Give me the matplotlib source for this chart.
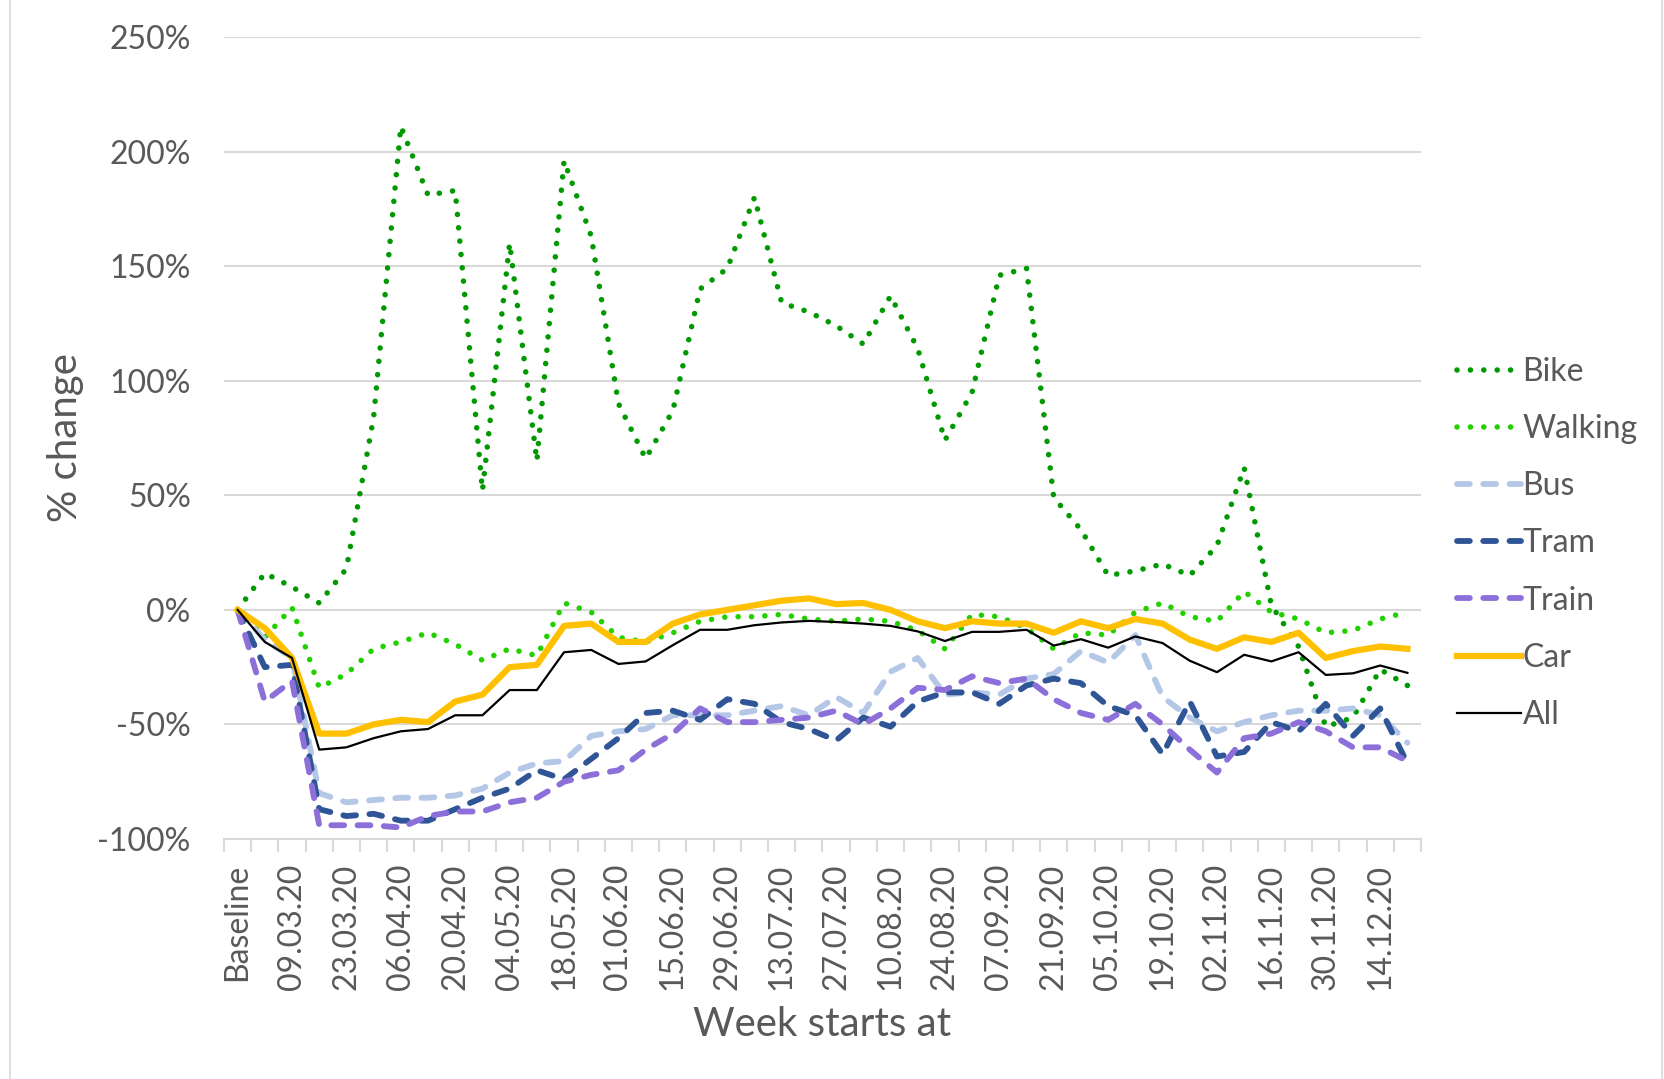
import matplotlib
matplotlib.use("Agg")
import matplotlib.pyplot as plt
from matplotlib.patches import Rectangle
import numpy as np
import pandas as pd

# categories: baseline + weekly start dates
weeks = list(pd.date_range("2020-03-02", periods=43, freq="7D").strftime("%d.%m.%y"))
categories = ["Baseline"] + weeks

# % change per week
bike = [0, 16, 10, 3, 18, 84, 211, 181, 183, 52, 160, 65, 196, 163, 90, 66, 87, 140,
        149, 180, 134, 130, 124, 116, 137, 114, 74, 95, 146, 149, 49, 35, 15, 17, 20,
        15, 28, 62, 2, -16, -51, -47, -26, -33]
walking = [0, -12, 1, -34, -28, -17, -14, -10, -15, -22, -17, -20, 3, -1, -12, -14, -10,
           -5, -3, -3, -2, -4, -5, -4, -5, -9, -17, -2, -3, -8, -17, -10, -11, -1, 3, -3,
           -5, 8, -1, -4, -10, -9, -4, -1]
bus = [0, -13, -21, -80, -84, -83, -82, -82, -81, -78, -71, -67, -66, -55, -53, -52, -46,
       -46, -46, -44, -42, -46, -38, -45, -27, -21, -37, -36, -37, -30, -28, -18, -23, -11,
       -38, -47, -53, -49, -46, -44, -44, -43, -46, -58]
tram = [0, -25, -24, -87, -90, -89, -92, -92, -87, -82, -78, -70, -74, -65, -56, -45, -44,
        -48, -39, -41, -49, -52, -57, -47, -51, -40, -36, -36, -41, -33, -30, -32, -42, -46,
        -63, -40, -64, -62, -49, -53, -41, -55, -43, -67]
train = [0, -40, -31, -94, -94, -94, -95, -90, -88, -88, -84, -82, -75, -72, -70, -61, -54,
         -43, -49, -49, -48, -47, -44, -50, -43, -34, -35, -29, -32, -30, -39, -45, -48, -41,
         -50, -61, -71, -56, -54, -49, -53, -60, -60, -66]
car = [0, -8, -21, -54, -54, -50, -48, -49, -40, -37, -25, -24, -7, -6, -14, -14, -6, -2,
       0, 2, 4, 5, 2.5, 3, 0, -5, -8, -5, -6, -6, -10, -5, -8, -4, -6, -13, -17, -12, -14,
       -10, -21, -18, -16, -17]
all_modes = [0, -14, -21, -61, -60, -56, -53, -52, -46, -46, -35, -35, -18.5, -17.5, -23.6,
             -22.5, -15.4, -8.7, -8.7, -6.7, -5.5, -4.8, -5.3, -6, -7, -9.4, -13.6, -9.6,
             -9.6, -8.7, -15.6, -12.8, -16.5, -11.6, -14.5, -22.2, -27.2, -19.6, -22.5,
             -18.5, -28.4, -27.7, -24.3, -27.5]

plt.rcParams["font.family"] = ["Lato", "DejaVu Sans"]
TXT = "#595959"

fig = plt.figure(figsize=(16.65, 10.79), dpi=100)
ax = fig.add_axes([224 / 1665, 1 - 839 / 1079, 1197 / 1665, 802 / 1079])

x = np.arange(len(categories))
dot = dict(linestyle=(0, (0.01, 2.4)), dash_capstyle="round", lw=4.0)
dash = dict(linestyle=(0, (2.2, 2.3)), dash_capstyle="round", lw=4.2)
ax.plot(x, bike, color="#009A00", label="Bike", **dot)
ax.plot(x, walking, color="#22D000", label="Walking", **dot)
ax.plot(x, bus, color="#B4C7E7", label="Bus", **dash)
ax.plot(x, tram, color="#2F5597", label="Tram", **dash)
ax.plot(x, train, color="#8C6FD9", label="Train", **dash)
ax.plot(x, car, color="#FFC000", lw=4.5, solid_joinstyle="round", label="Car")
ax.plot(x, all_modes, color="black", lw=1.6, label="All")

ax.set_xlim(-0.5, len(categories) - 0.5)
ax.set_ylim(-100, 250)
ax.set_yticks(range(-100, 251, 50))
ax.set_yticklabels([f"{v}%" for v in range(-100, 251, 50)])
ax.grid(axis="y", color="#D9D9D9", lw=1.5)
ax.set_axisbelow(True)
ax.tick_params(axis="y", length=0, pad=24, labelsize=23, labelcolor=TXT)

ax.set_xticks(x[::2])
ax.set_xticklabels(categories[::2], rotation=90)
ax.set_xticks(np.arange(-0.5, len(categories), 1), minor=True)
ax.tick_params(axis="x", which="major", length=0, pad=18, labelsize=23, labelcolor=TXT)
ax.tick_params(axis="x", which="minor", length=9, width=1.5, color="#D9D9D9")
for s in ("left", "right", "top"):
    ax.spines[s].set_visible(False)
ax.spines["bottom"].set_color("#D9D9D9")
ax.spines["bottom"].set_linewidth(1.5)

fig.text(66 / 1665, 1 - 438 / 1079, "% change", rotation=90, ha="center", va="center",
         fontsize=29, color=TXT)
fig.text(822 / 1665, 1 - 1025 / 1079, "Week starts at", ha="center", va="center",
         fontsize=29, color=TXT)

fig.legend(loc="upper left", bbox_to_anchor=(1457 / 1665, 1 - 357 / 1079), frameon=False,
           fontsize=23, labelcolor=TXT, handlelength=2.0, handletextpad=0.05,
           labelspacing=0.85, borderpad=0, borderaxespad=0)

fig.patches.append(Rectangle((10 / 1665, -0.01), 1652 / 1665, 1.02, transform=fig.transFigure,
                             fill=False, edgecolor="#D9D9D9", lw=1.2))

fig.savefig("out.png", dpi=100)
